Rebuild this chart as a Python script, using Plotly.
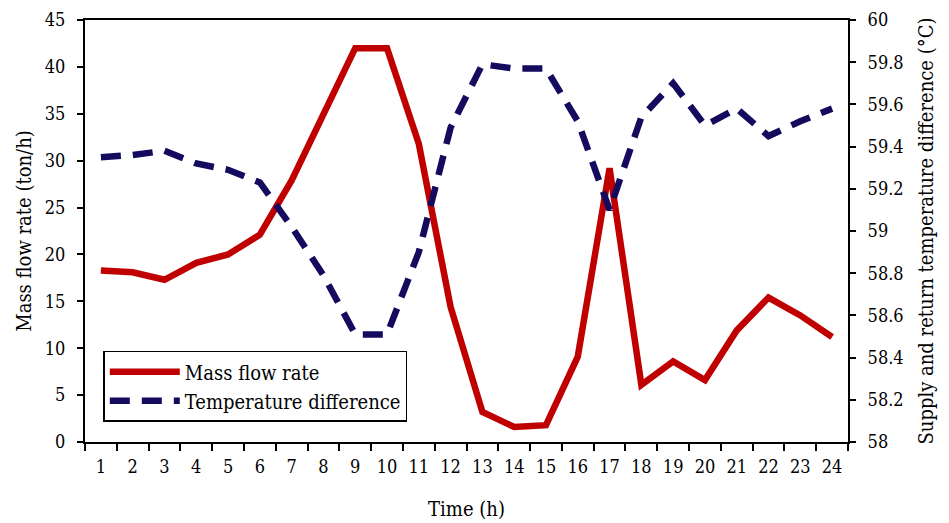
import plotly.graph_objects as go

hours = [str(h) for h in range(1, 25)]
mass_flow = [18.3, 18.1, 17.3, 19.1, 20.0, 22.1, 27.9, 35.0, 42.0, 42.0, 31.8, 14.4,
             3.2, 1.6, 1.8, 9.1, 29.2, 6.1, 8.6, 6.6, 11.9, 15.4, 13.5, 11.2]
temp_diff = [59.35, 59.36, 59.38, 59.32, 59.29, 59.23, 59.02, 58.79, 58.51, 58.51, 58.90, 59.49,
             59.79, 59.77, 59.77, 59.52, 59.10, 59.54, 59.70, 59.50, 59.58, 59.45, 59.52, 59.58]
left_ticks = [0, 5, 10, 15, 20, 25, 30, 35, 40, 45]
right_ticks = [58, 58.2, 58.4, 58.6, 58.8, 59, 59.2, 59.4, 59.6, 59.8, 60]

FONT = "DejaVu Serif Condensed"

fig = go.Figure()
fig.add_trace(go.Scatter(x=hours, y=mass_flow, name="Mass flow rate", mode="lines",
                         line=dict(color="#C00000", width=6.5)))
fig.add_trace(go.Scatter(x=hours, y=temp_diff, name="Temperature difference", mode="lines",
                         yaxis="y2", line=dict(color="#140A5E", width=6.5, dash="20px,12px")))

fig.update_layout(
    width=949, height=523,
    margin=dict(l=85, r=101, t=20, b=81, autoexpand=False),
    paper_bgcolor="white", plot_bgcolor="white",
    font=dict(family=FONT, size=17, color="black"),
    showlegend=True,
    legend=dict(x=0.024, y=0.216, xanchor="left", yanchor="top",
                bordercolor="black", borderwidth=1.5, bgcolor="white",
                font=dict(size=20, family=FONT), itemwidth=70,
                tracegroupgap=0),
    xaxis=dict(type="category", tickson="boundaries", range=[-0.5, 23.5],
               automargin=False,
               ticks="outside", ticklen=7, ticklabelstandoff=7, tickangle=0,
               tickwidth=1.5, tickcolor="black", showline=True, linecolor="black",
               linewidth=2, mirror=True, showgrid=False,
               title=dict(text="Time (h)", standoff=26),
               tickfont=dict(size=18)),
    yaxis=dict(range=[0, 45], tickvals=left_ticks, ticks="outside", ticklen=6,
               automargin=False,
               ticklabelstandoff=8, tickfont=dict(size=18),
               tickwidth=1.5, tickcolor="black", showline=True, linecolor="black",
               linewidth=2, showgrid=False, zeroline=False,
               title=dict(text="Mass flow rate (ton/h)", standoff=8)),
    yaxis2=dict(range=[58, 60], tickvals=right_ticks, ticktext=[f"{v:g}" for v in right_ticks],
                automargin=False,
                overlaying="y", side="right", ticks="outside", ticklen=6,
                ticklabelstandoff=8, tickfont=dict(size=18),
                tickwidth=1.5, tickcolor="black", showline=True, linecolor="black",
                linewidth=2, showgrid=False, zeroline=False,
                title=dict(text="Supply and return temperature difference (°C)", standoff=16)),
)

fig.write_html("out.html")
